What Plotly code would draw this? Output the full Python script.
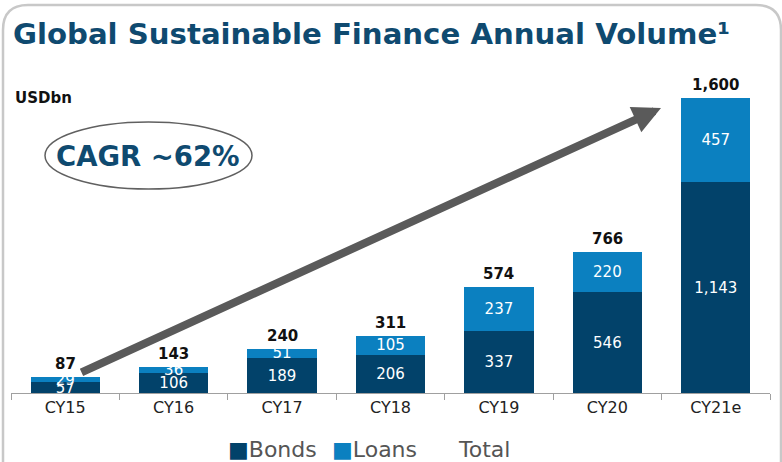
import plotly.graph_objects as go

categories = ["CY15", "CY16", "CY17", "CY18", "CY19", "CY20", "CY21e"]
bonds = [57, 106, 189, 206, 337, 546, 1143]
loans = [29, 36, 51, 105, 237, 220, 457]
totals = [87, 143, 240, 311, 574, 766, 1600]

BOND_C = "#02426a"
LOAN_C = "#0b80c0"
TITLE_C = "#0f4a70"

W, H = 782, 462
L, R, T, B = 11, 12, 80, 69
PW = W - L - R
PH = H - T - B


def px(x):
    return (x - L) / PW


def py(y):
    return (H - B - y) / PH


fig = go.Figure()
fig.add_trace(go.Bar(
    x=categories, y=bonds, name="Bonds", marker=dict(color=BOND_C, line=dict(width=0)),
    text=[f"{v:,}" for v in bonds], textposition="inside", insidetextanchor="middle",
    constraintext="none", textangle=0,
    textfont=dict(family="DejaVu Sans", size=15, color="white"),
))
fig.add_trace(go.Bar(
    x=categories, y=loans, name="Loans", marker=dict(color=LOAN_C, line=dict(width=0)),
    text=[f"{v:,}" for v in loans], textposition="inside", insidetextanchor="middle",
    constraintext="none", textangle=0,
    textfont=dict(family="DejaVu Sans", size=15, color="white"),
))

annotations = []
for c, t in zip(categories, totals):
    annotations.append(dict(
        x=c, y=t, xref="x", yref="y", text=f"<b>{t:,}</b>", showarrow=False,
        yanchor="bottom", yshift=2,
        font=dict(family="DejaVu Sans", size=15, color="#111111"),
    ))

# Title
annotations.append(dict(
    x=px(11), y=py(34), xref="paper", yref="paper", xanchor="left", yanchor="middle",
    text="<b>Global Sustainable Finance Annual Volume¹</b>", showarrow=False,
    font=dict(family="DejaVu Sans", size=29.2, color=TITLE_C),
))
# Units
annotations.append(dict(
    x=px(13), y=py(98), xref="paper", yref="paper", xanchor="left", yanchor="middle",
    text="<b>USDbn</b>", showarrow=False,
    font=dict(family="DejaVu Sans", size=15, color="#111111"),
))
# CAGR
annotations.append(dict(
    x=px(148), y=py(156), xref="paper", yref="paper", xanchor="center", yanchor="middle",
    text="<b>CAGR ~62%</b>", showarrow=False,
    font=dict(family="DejaVu Sans", size=27.5, color=TITLE_C),
))
# Arrow
annotations.append(dict(
    x=px(661), y=py(108), xref="paper", yref="paper", text="", showarrow=True,
    ax=80 - 661, ay=373 - 108, axref="pixel", ayref="pixel",
    arrowhead=2, arrowsize=0.7, arrowwidth=8, arrowcolor="#5a5a5a",
))
# Legend
legend_items = [
    (226, f"<span style='color:{BOND_C}'>■</span>Bonds"),
    (330, f"<span style='color:{LOAN_C}'>■</span>Loans"),
    (456, "Total"),
]
for lx, lt in legend_items:
    annotations.append(dict(
        x=px(lx), y=py(449), xref="paper", yref="paper", xanchor="left", yanchor="middle",
        text=lt, showarrow=False,
        font=dict(family="DejaVu Sans", size=22, color="#555555"),
    ))

shapes = [
    dict(type="circle", xref="paper", yref="paper",
         x0=px(45), x1=px(252), y0=py(189), y1=py(122),
         line=dict(color="#606060", width=1.5), fillcolor="rgba(0,0,0,0)"),
    dict(type="path", xref="paper", yref="paper",
         path=(f"M {px(3)},{py(470)} L {px(3)},{py(30)} Q {px(3)},{py(5)} {px(28)},{py(5)} "
               f"L {px(756)},{py(5)} Q {px(781)},{py(5)} {px(781)},{py(30)} L {px(781)},{py(470)}"),
         line=dict(color="#c8c8c8", width=2.5)),
]

fig.update_layout(
    width=W, height=H, barmode="stack", bargap=0.36,
    margin=dict(l=L, r=R, t=T, b=B),
    paper_bgcolor="white", plot_bgcolor="white",
    showlegend=False, annotations=annotations, shapes=shapes,
    xaxis=dict(showline=True, linecolor="#a0a0a0", linewidth=1, ticks="outside",
               tickson="boundaries", ticklen=6, tickcolor="#a0a0a0",
               tickfont=dict(family="DejaVu Sans", size=16, color="#222222"),
               showgrid=False, zeroline=False),
    yaxis=dict(visible=False, range=[0, PH / 0.1846], showgrid=False, zeroline=False),
)

fig.write_html("out.html", config={"displayModeBar": False},
               post_script="document.body.style.margin='0';document.body.style.overflow='hidden';")
